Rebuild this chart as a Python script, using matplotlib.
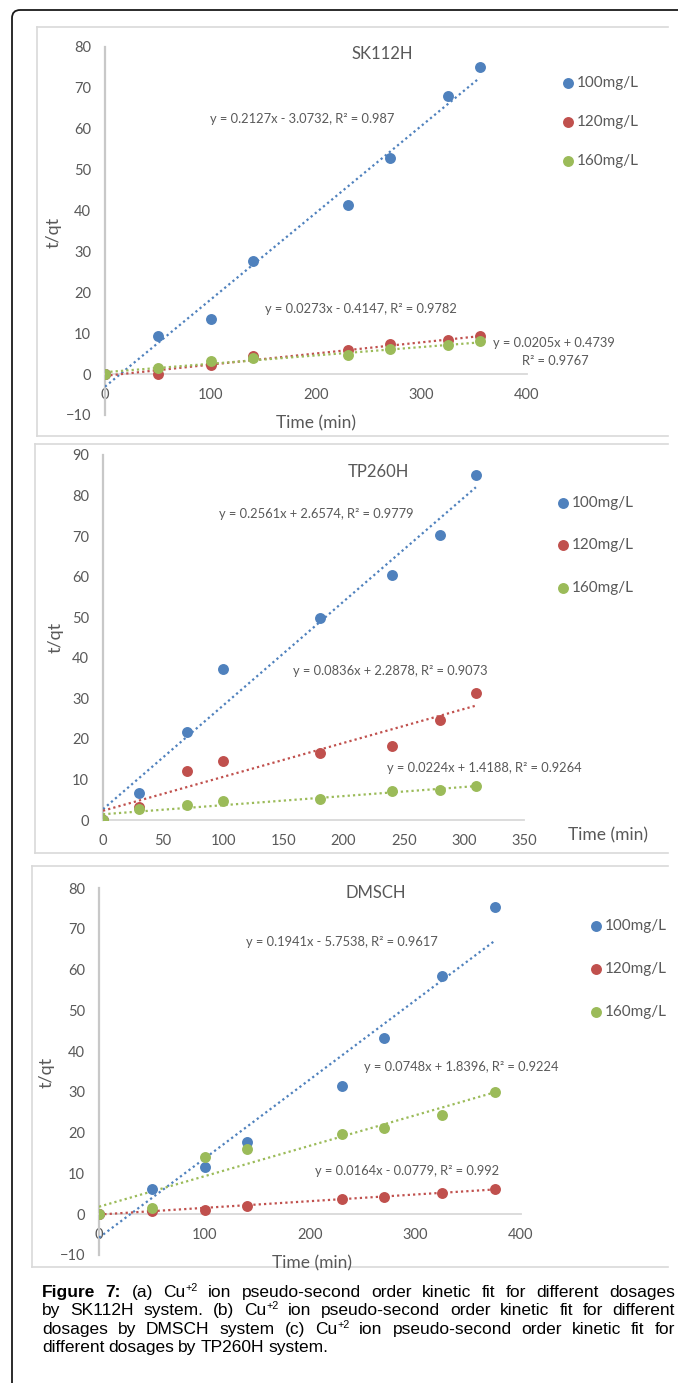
import matplotlib
matplotlib.use('Agg')
import numpy as np
import matplotlib.pyplot as plt
from matplotlib.patches import FancyBboxPatch
from matplotlib.lines import Line2D

plt.rcParams['font.family'] = ['Lato', 'DejaVu Sans']

# ---- data -------------------------------------------------------------
labels = ['100mg/L', '120mg/L', '160mg/L']
colors = ['#4F81BD', '#C0504D', '#9BBB59']

# SK112H
sk_time = [0, 50, 100, 140, 230, 270, 325, 355]
sk_100 = [0, 9.2, 13.6, 27.6, 41.3, 52.8, 68.0, 75.0]
sk_120 = [0, 0.0, 2.2, 4.5, 5.9, 7.3, 8.4, 9.35]
sk_160 = [0, 1.6, 3.1, 3.9, 4.6, 6.1, 7.1, 8.0]
sk_slope = [0.2127, 0.0273, 0.0205]
sk_icpt = [-3.0732, -0.4147, 0.4739]

# TP260H
tp_time = [0, 30, 70, 100, 180, 240, 280, 310]
tp_100 = [0, 6.7, 21.7, 37.2, 49.8, 60.3, 70.2, 85.0]
tp_120 = [0, 3.3, 12.1, 14.6, 16.4, 18.2, 24.6, 31.3]
tp_160 = [0, 2.7, 3.8, 4.75, 5.3, 7.1, 7.5, 8.5]
tp_slope = [0.2561, 0.0836, 0.0224]
tp_icpt = [2.6574, 2.2878, 1.4188]

# DMSCH
dm_time = [0, 50, 100, 140, 230, 270, 325, 375]
dm_100 = [0, 6.3, 11.6, 17.8, 31.5, 43.2, 58.5, 75.4]
dm_120 = [0, 0.7, 1.15, 2.1, 3.7, 4.3, 5.1, 6.3]
dm_160 = [0, 1.6, 14.1, 15.9, 19.6, 21.1, 24.3, 30.0]
dm_slope = [0.1941, 0.0164, 0.0748]
dm_icpt = [-5.7538, -0.0779, 1.8396]

W, H = 678, 1383
fig = plt.figure(figsize=(W / 100, H / 100), dpi=100)
TXT = '#595959'
EQ = 9.3


def fx(x):
    return x / W


def fy(y):
    return 1 - y / H


def px_axes(x0, y0, x1, y1):
    return fig.add_axes([fx(x0), fy(y1), (x1 - x0) / W, (y1 - y0) / H])


def style_axes(ax, xlim, ylim, xstep, ystep):
    ax.set_xlim(*xlim)
    ax.set_ylim(*ylim)
    ax.patch.set_alpha(0)
    ax.set_xticks(np.arange(xlim[0], xlim[1] + 1, xstep))
    ax.set_yticks(np.arange(ylim[0], ylim[1] + 1, ystep))
    for s in ['top', 'right']:
        ax.spines[s].set_visible(False)
    ax.spines['bottom'].set_position(('data', 0))
    ax.spines['bottom'].set_color('#D9D9D9')
    ax.spines['bottom'].set_linewidth(1.3)
    ax.spines['left'].set_color('#C8C8C8')
    ax.spines['left'].set_linewidth(1.6)
    ax.tick_params(length=0, labelsize=10.5, labelcolor=TXT)
    ax.tick_params(axis='y', pad=10)
    ax.tick_params(axis='x', pad=10)
    for lab in ax.get_xticklabels() + ax.get_yticklabels():
        lab.set_zorder(1)


def draw_series(ax, t, series, slopes, icpts):
    handles = []
    for y, c, lab, m, b in zip(series, colors, labels, slopes, icpts):
        xs = np.array([0, max(t)])
        ax.plot(xs, m * xs + b, color=c, lw=1.6, ls=(0, (1, 1.4)), zorder=3)
        h = ax.scatter(t, y, s=62, color=c, zorder=4, linewidths=0, label=lab)
        handles.append(h)
    return handles


def legend(ax, handles, x, y, spacing):
    ax.legend(handles=handles, loc='upper left',
              bbox_to_anchor=(fx(x), fy(y)), bbox_transform=fig.transFigure,
              frameon=False, fontsize=11, labelcolor=TXT, handlelength=1.0,
              handletextpad=0.1, labelspacing=spacing, borderpad=0,
              borderaxespad=0, scatterpoints=1, markerscale=1.0)


def panel_frame(x0, y0, y1):
    c = '#D9D9D9'
    fig.add_artist(Line2D([fx(x0), fx(668)], [fy(y0), fy(y0)], color=c, lw=1.2))
    fig.add_artist(Line2D([fx(x0), fx(668)], [fy(y1), fy(y1)], color=c, lw=1.2))
    fig.add_artist(Line2D([fx(x0), fx(x0)], [fy(y0), fy(y1)], color=c, lw=1.2))


def ftext(x, y, s, size, **kw):
    fig.text(fx(x), fy(y), s, fontsize=size, color=TXT, ha=kw.pop('ha', 'center'),
             va=kw.pop('va', 'center'), **kw)


def ylabel(x, y):
    fig.text(fx(x), fy(y), 't/qt', fontsize=13, color=TXT, rotation=90,
             ha='center', va='center')


# outer rounded border
fig.add_artist(FancyBboxPatch((fx(12), fy(1420)), fx(720), 1410 / H,
                              boxstyle='round,pad=0,rounding_size=0.012',
                              transform=fig.transFigure, fill=False,
                              edgecolor='#1a1a1a', lw=1.3, mutation_aspect=W / H))

# ---- panel (a): SK112H -----------------------------------------------
panel_frame(37, 27, 436)
ax1 = px_axes(105, 47, 527, 415)
style_axes(ax1, (0, 400), (-10, 80), 100, 10)
h1 = draw_series(ax1, sk_time, [sk_100, sk_120, sk_160], sk_slope, sk_icpt)
legend(ax1, h1, 560, 76, 1.65)
ftext(382, 54, 'SK112H', 12)
ylabel(54, 232)
ftext(316, 423, 'Time (min)', 12.5)
ftext(302, 119, 'y = 0.2127x - 3.0732, R² = 0.987', EQ)
ftext(361, 309, 'y = 0.0273x - 0.4147, R² = 0.9782', EQ)
ftext(493, 343, 'y = 0.0205x + 0.4739', EQ, ha='left')
ftext(555, 361, 'R² = 0.9767', EQ)

# ---- panel (b): TP260H -----------------------------------------------
panel_frame(35, 444, 853)
ax2 = px_axes(103, 455, 524, 820)
style_axes(ax2, (0, 350), (0, 90), 50, 10)
h2 = draw_series(ax2, tp_time, [tp_100, tp_120, tp_160], tp_slope, tp_icpt)
legend(ax2, h2, 555, 496, 1.85)
ftext(378, 472, 'TP260H', 12)
ylabel(56, 637)
ftext(608, 835, 'Time (min)', 12.5)
ftext(316, 514, 'y = 0.2561x + 2.6574, R² = 0.9779', EQ)
ftext(390, 671, 'y = 0.0836x + 2.2878, R² = 0.9073', EQ)
ftext(484, 768, 'y = 0.0224x + 1.4188, R² = 0.9264', EQ)

# ---- panel (c): DMSCH ------------------------------------------------
panel_frame(32, 866, 1267)
ax3 = px_axes(99, 888, 521, 1255)
style_axes(ax3, (0, 400), (-10, 80), 100, 10)
h3 = draw_series(ax3, dm_time, [dm_100, dm_120, dm_160], dm_slope, dm_icpt)
legend(ax3, h3, 588, 919, 1.9)
ftext(376, 893, 'DMSCH', 12)
ylabel(47, 1072)
ftext(312, 1263, 'Time (min)', 12.5)
ftext(342, 942, 'y = 0.1941x - 5.7538, R² = 0.9617', EQ)
ftext(461, 1067, 'y = 0.0748x + 1.8396, R² = 0.9224', EQ)
ftext(407, 1171, 'y = 0.0164x - 0.0779, R² = 0.992', EQ)

# ---- caption, justified line by line ---------------------------------
# each word is a list of (text, style) pieces; 'b' bold, 'n' normal, 's' superscript
CU = [('Cu', 'n'), ('+2', 's')]


def plain(s):
    return [[(w, 'n')] for w in s.split()]


caption = [
    [[('Figure', 'b')], [('7:', 'b')], [('(a)', 'n')], CU]
    + plain('ion pseudo-second order kinetic fit for different dosages'),
    plain('by SK112H system. (b)') + [CU]
    + plain('ion pseudo-second order kinetic fit for different'),
    plain('dosages by DMSCH system (c)') + [CU]
    + plain('ion pseudo-second order kinetic fit for'),
    plain('different dosages by TP260H system.'),
]
renderer = fig.canvas.get_renderer()
cap_x0, cap_x1 = 42, 675
CAP = 12.5
for i, words in enumerate(caption):
    y = 1297 + i * 18.4
    placed = []
    for word in words:
        pieces = []
        wsum = 0
        for txt, st in word:
            size = CAP * 0.62 if st == 's' else CAP
            dy = 6 if st == 's' else 0
            t = fig.text(0, fy(y - dy), txt, fontsize=size,
                         family='Liberation Sans',
                         fontweight='bold' if st == 'b' else 'normal',
                         color='black', ha='left', va='baseline')
            w = t.get_window_extent(renderer).width
            pieces.append((t, wsum))
            wsum += w
        placed.append((pieces, wsum))
    total = sum(w for _, w in placed)
    if i < len(caption) - 1:
        gap = (cap_x1 - cap_x0 - total) / (len(words) - 1)
    else:
        gap = 4.0
    x = cap_x0
    for pieces, w in placed:
        for t, off in pieces:
            t.set_x(fx(x + off))
        x += w + gap

fig.savefig('out.png', dpi=100)
